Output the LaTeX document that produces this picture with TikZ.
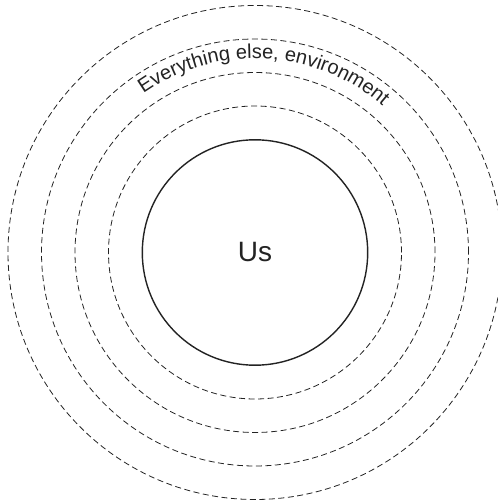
\documentclass[tikz,border=0pt]{standalone}
\usepackage{fontspec}
\setmainfont{Liberation Sans}
\usepackage{tikz}
\usetikzlibrary{calc, decorations.text}
\definecolor{inkgray}{RGB}{35, 35, 35}

\begin{document}
\begin{tikzpicture}[x=1pt, y=1pt,
          self/.style={circle, draw=inkgray, line width=1.4pt,
                       minimum size=225.4pt, inner sep=0pt,
                       font=\fontsize{28}{28}\selectfont,
                       text=inkgray},
          ring/.style={draw=inkgray, line width=0.8pt,
                       dash pattern=on 6pt off 3.5pt},
      ]
      \useasboundingbox (0, 0) rectangle (498, 504);
      \node[self] (us) at (255, 251.5) {Us};
      % layers around us
      \foreach \r in {146.5, 180, 213.5, 247}
          \draw[ring] (us.center) circle[radius=\r];
      \path[decorate, decoration={text along path,
              text align=center,
              text color=inkgray,
              text={|\fontsize{20}{20}\selectfont|Everything else, environment}}]
          ($(us.center)+(160:194)$)
          arc[start angle=160, end angle=14, radius=194];
      \end{tikzpicture}
\end{document}
